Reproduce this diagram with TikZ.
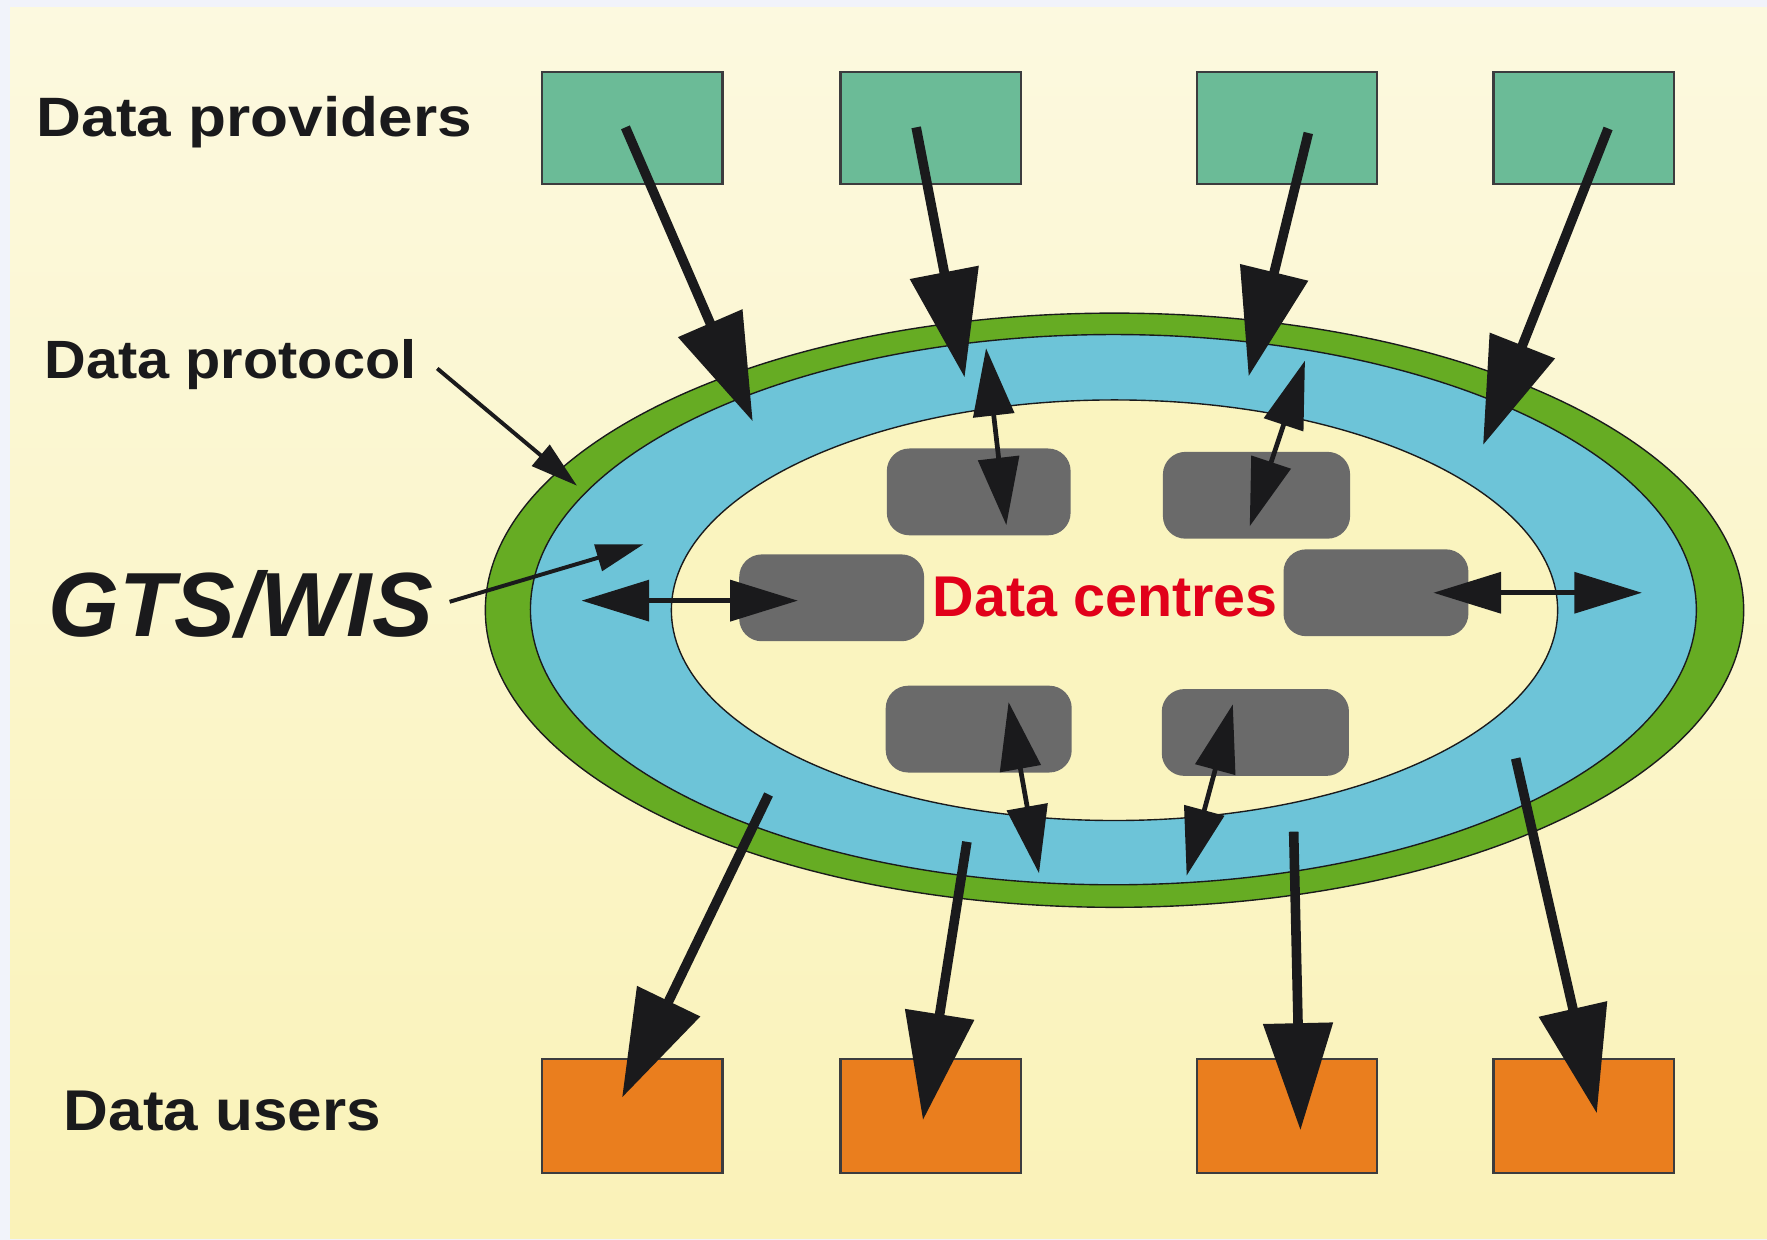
\documentclass[tikz,border=0pt]{standalone}
\usepackage{fontspec}
\setmainfont{Liberation Sans}
\usepackage{graphicx}
\usetikzlibrary{arrows.meta}
\definecolor{outerbg}{HTML}{F1F3FA}
\definecolor{paneltop}{HTML}{FCF9DF}
\definecolor{panelbot}{HTML}{FAF2B8}
\definecolor{ringgreen}{HTML}{66AC23}
\definecolor{ringblue}{HTML}{6DC4D8}
\definecolor{innercream}{HTML}{FAF4BF}
\definecolor{provgreen}{HTML}{6BBB97}
\definecolor{userorange}{HTML}{EA7E1E}
\definecolor{dcgrey}{HTML}{6A6A6A}
\definecolor{dcred}{HTML}{E1001A}
\definecolor{ink}{HTML}{1A1A1C}
\tikzset{
  ring/.style={draw=ink, line width=0.35pt},
  provbox/.style={draw=ink!85, line width=0.6pt, fill=provgreen, minimum width=1.6cm, minimum height=0.99cm, inner sep=0pt},
  userbox/.style={draw=ink!85, line width=0.6pt, fill=userorange, minimum width=1.6cm, minimum height=1.01cm, inner sep=0pt},
  dcbox/.style={fill=dcgrey, rounded corners=2mm, minimum width=1.64cm, minimum height=0.77cm, inner sep=0pt},
  bigarrow/.style={draw=ink, line width=0.85mm, -{Triangle[length=9.5mm, width=6mm]}},
  dblarrow/.style={draw=ink, line width=0.42mm, {Triangle[length=6mm, width=3.6mm]}-{Triangle[length=6mm, width=3.6mm]}},
  ptrarrow/.style={draw=ink, line width=0.35mm, -{Triangle[length=4.2mm, width=2.4mm]}},
  lbl/.style={anchor=base west, inner sep=0pt, text=ink}
}
\begin{document}
\begin{tikzpicture}[x=0.01cm, y=-0.01cm]
\useasboundingbox (0,0) rectangle (1568,1100);
\fill[outerbg] (0,0) rectangle (1568,1100);
\shade[top color=paneltop, bottom color=panelbot] (9,7) rectangle (1568,1099);

% rings
\draw[ring, fill=ringgreen] (989,541.5) ellipse [x radius=5.58cm, y radius=2.635cm];
\draw[ring, fill=ringblue] (988,541) ellipse [x radius=5.17cm, y radius=2.44cm];
\draw[ring, fill=innercream] (989,541.5) ellipse [x radius=3.93cm, y radius=1.865cm];

% data centres
\node[dcbox, minimum width=1.63cm] (dc1) at (868.5,436.5) {};
\node[dcbox, minimum width=1.66cm] (dc2) at (1115,439.5) {};
\node[dcbox] (dc3) at (738,530.5) {};
\node[dcbox] (dc4) at (1221,526) {};
\node[dcbox, minimum width=1.65cm] (dc5) at (868.5,647) {};
\node[dcbox, minimum width=1.66cm] (dc6) at (1114,650) {};
\node[anchor=base west, inner sep=0pt, text=dcred] (dctxt) at (827,547)
  {\fontsize{14.5}{17}\selectfont\bfseries Data centres};

% providers and users
\node[provbox] (p1) at (561,113.5) {};
\node[provbox] (p2) at (826,113.5) {};
\node[provbox] (p3) at (1142,113.5) {};
\node[provbox] (p4) at (1405.5,113.5) {};
\node[userbox] (u1) at (561,990.5) {};
\node[userbox] (u2) at (826,990.5) {};
\node[userbox] (u3) at (1142,990.5) {};
\node[userbox] (u4) at (1405.5,990.5) {};

% labels
\node[lbl] (tprov) at (32,121) {\fontsize{14}{16}\selectfont\bfseries\scalebox{1.12}[1]{Data providers}};
\node[lbl] (tprot) at (39,336) {\fontsize{13.6}{16}\selectfont\bfseries\scalebox{1.07}[1]{Data protocol}};
\node[lbl] (tgts) at (42,565) {\fontsize{23}{26}\selectfont\bfseries\itshape GTS/WIS};
\node[lbl] (tuser) at (56,1003) {\fontsize{14.5}{16}\selectfont\bfseries\scalebox{1.08}[1]{Data users}};

% arrow end points
\coordinate (p1s) at (555,113);  \coordinate (p1e) at (668,374);
\coordinate (p2s) at (813,113);  \coordinate (p2e) at (856,335);
\coordinate (p3s) at (1161,118); \coordinate (p3e) at (1108,334);
\coordinate (p4s) at (1427,114); \coordinate (p4e) at (1316,395);
\coordinate (u1s) at (682,705);  \coordinate (u1e) at (552,974);
\coordinate (u2s) at (858,747);  \coordinate (u2e) at (819,994);
\coordinate (u3s) at (1148,738); \coordinate (u3e) at (1154,1003);
\coordinate (u4s) at (1345,673); \coordinate (u4e) at (1417,988);
\coordinate (d1a) at (875,309);  \coordinate (d1b) at (893,466);
\coordinate (d2a) at (1158,320); \coordinate (d2b) at (1109,467);
\coordinate (d3a) at (516,533);  \coordinate (d3b) at (708,533);
\coordinate (d4a) at (1272,526); \coordinate (d4b) at (1457,526);
\coordinate (d5a) at (895,623);  \coordinate (d5b) at (922,775);
\coordinate (d6a) at (1094,625); \coordinate (d6b) at (1053,777);
\coordinate (prs) at (388,327);  \coordinate (pre) at (512,431);
\coordinate (gts) at (399,534);  \coordinate (gte) at (571,483);

% arrows
\draw[bigarrow] (p1s) -- (p1e);
\draw[bigarrow] (p2s) -- (p2e);
\draw[bigarrow] (p3s) -- (p3e);
\draw[bigarrow] (p4s) -- (p4e);
\draw[bigarrow] (u1s) -- (u1e);
\draw[bigarrow] (u2s) -- (u2e);
\draw[bigarrow] (u3s) -- (u3e);
\draw[bigarrow] (u4s) -- (u4e);
\draw[dblarrow] (d1a) -- (d1b);
\draw[dblarrow] (d2a) -- (d2b);
\draw[dblarrow] (d3a) -- (d3b);
\draw[dblarrow] (d4a) -- (d4b);
\draw[dblarrow] (d5a) -- (d5b);
\draw[dblarrow] (d6a) -- (d6b);
\draw[ptrarrow] (prs) -- (pre);
\draw[ptrarrow] (gts) -- (gte);
\end{tikzpicture}
\end{document}
